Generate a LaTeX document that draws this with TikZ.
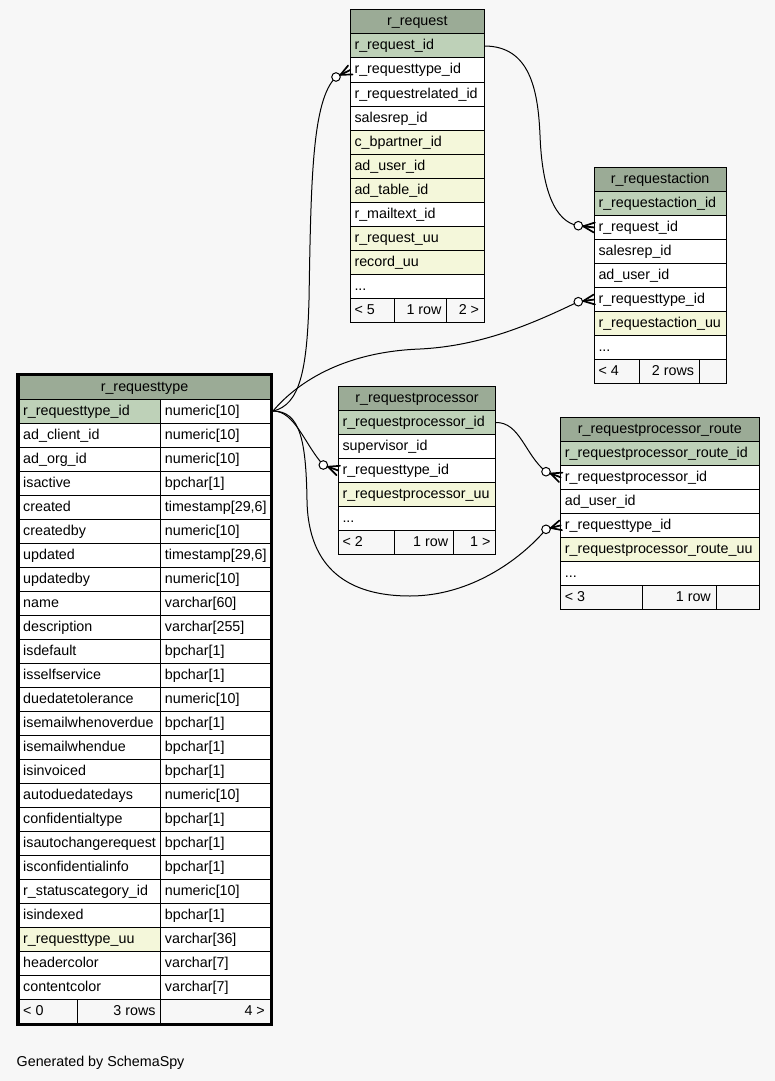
\documentclass[tikz,border=0pt]{standalone}
\usepackage{fontspec}
\setmainfont{Liberation Sans}
\usetikzlibrary{calc}
\definecolor{bgc}{HTML}{F7F7F7}
\definecolor{hdr}{HTML}{9BAB96}
\definecolor{pkc}{HTML}{BED1B8}
\definecolor{idx}{HTML}{F4F7DA}
\tikzset{
  cellbox/.style={draw=black, line width=1pt, minimum height=24pt, inner sep=0pt, outer sep=0pt, anchor=north west},
  celltext/.style={inner sep=0pt, font=\fontsize{14.3}{17}\selectfont, text=black},
  edge/.style={draw=black, line width=1pt},
  crowline/.style={draw=black, line width=1.7pt, line cap=round},
}
\newcommand\cellL[6]{%
  \node[cellbox, fill=#5, minimum width={(#3-#2)*1pt}] (#1) at ({#2},{#4}) {};
  \node[celltext, anchor=base west] (#1-t) at ({#2+4},{#4+16}) {#6};}
\newcommand\cellR[6]{%
  \node[cellbox, fill=#5, minimum width={(#3-#2)*1pt}] (#1) at ({#2},{#4}) {};
  \node[celltext, anchor=base east] (#1-t) at ({#3-5},{#4+16}) {#6};}
\newcommand\cellC[6]{%
  \node[cellbox, fill=#5, minimum width={(#3-#2)*1pt}] (#1) at ({#2},{#4}) {};
  \node[celltext, anchor=base] (#1-t) at ({(#2+#3)/2},{#4+16}) {#6};}
\newcommand\cellE[5]{%
  \node[cellbox, fill=#5, minimum width={(#3-#2)*1pt}] (#1) at ({#2},{#4}) {};}
\newcommand\rtrow[4]{%
  \cellL{rt-#1a}{19}{160.7}{399+24*(#1-1)}{#4}{#2}%
  \cellL{rt-#1b}{160.7}{270}{399+24*(#1-1)}{white}{#3}}
\newcommand\crowend[2]{%
  \draw[edge] (#1) -- (#2);
  \draw[crowline] ($(#1)!5pt!(#2)$) -- ($(#2)!5pt!90:(#1)$);
  \draw[crowline] ($(#1)!5pt!(#2)$) -- ($(#2)!5pt!-90:(#1)$);
  \draw[crowline] ($(#1)!5pt!(#2)$) -- (#2);
  \draw[edge, fill=white] (#1) circle[radius=4.3pt];}
\begin{document}
\begin{tikzpicture}[x=1pt, y=-1pt]
\fill[bgc] (0,0) rectangle (775,1081);
\useasboundingbox (0,0) rectangle (775,1081);

% r_request
\cellC{rq-0}{350.3}{484.3}{10}{hdr}{r\_request}
\cellL{rq-1}{350.3}{484.3}{34}{pkc}{r\_request\_id}
\cellL{rq-2}{350.3}{484.3}{58}{white}{r\_requesttype\_id}
\cellL{rq-3}{350.3}{484.3}{82}{white}{r\_requestrelated\_id}
\cellL{rq-4}{350.3}{484.3}{106}{white}{salesrep\_id}
\cellL{rq-5}{350.3}{484.3}{130}{idx}{c\_bpartner\_id}
\cellL{rq-6}{350.3}{484.3}{154}{idx}{ad\_user\_id}
\cellL{rq-7}{350.3}{484.3}{178}{idx}{ad\_table\_id}
\cellL{rq-8}{350.3}{484.3}{202}{white}{r\_mailtext\_id}
\cellL{rq-9}{350.3}{484.3}{226}{idx}{r\_request\_uu}
\cellL{rq-10}{350.3}{484.3}{250}{idx}{record\_uu}
\cellL{rq-11}{350.3}{484.3}{274}{white}{...}
\cellL{rq-f1}{350.3}{394.3}{298}{bgc}{< 5}
\cellR{rq-f2}{394.3}{446.7}{298}{bgc}{1 row}
\cellR{rq-f3}{446.7}{484.3}{298}{bgc}{2 >}

% r_requestaction
\cellC{ra-0}{594.3}{726}{167.5}{hdr}{r\_requestaction}
\cellL{ra-1}{594.3}{726}{191.5}{pkc}{r\_requestaction\_id}
\cellL{ra-2}{594.3}{726}{215.5}{white}{r\_request\_id}
\cellL{ra-3}{594.3}{726}{239.5}{white}{salesrep\_id}
\cellL{ra-4}{594.3}{726}{263.5}{white}{ad\_user\_id}
\cellL{ra-5}{594.3}{726}{287.5}{white}{r\_requesttype\_id}
\cellL{ra-6}{594.3}{726}{311.5}{idx}{r\_requestaction\_uu}
\cellL{ra-7}{594.3}{726}{335.5}{white}{...}
\cellL{ra-f1}{594.3}{639.3}{359.5}{bgc}{< 4}
\cellR{ra-f2}{639.3}{699.3}{359.5}{bgc}{2 rows}
\cellE{ra-f3}{699.3}{726}{359.5}{bgc}

% r_requestprocessor
\cellC{rp-0}{338.3}{495.7}{386.5}{hdr}{r\_requestprocessor}
\cellL{rp-1}{338.3}{495.7}{410.5}{pkc}{r\_requestprocessor\_id}
\cellL{rp-2}{338.3}{495.7}{434.5}{white}{supervisor\_id}
\cellL{rp-3}{338.3}{495.7}{458.5}{white}{r\_requesttype\_id}
\cellL{rp-4}{338.3}{495.7}{482.5}{idx}{r\_requestprocessor\_uu}
\cellL{rp-5}{338.3}{495.7}{506.5}{white}{...}
\cellL{rp-f1}{338.3}{394.3}{530.5}{bgc}{< 2}
\cellR{rp-f2}{394.3}{453.3}{530.5}{bgc}{1 row}
\cellR{rp-f3}{453.3}{495.7}{530.5}{bgc}{1 >}

% r_requestprocessor_route
\cellC{rr-0}{560.7}{759}{417.3}{hdr}{r\_requestprocessor\_route}
\cellL{rr-1}{560.7}{759}{441.3}{pkc}{r\_requestprocessor\_route\_id}
\cellL{rr-2}{560.7}{759}{465.3}{white}{r\_requestprocessor\_id}
\cellL{rr-3}{560.7}{759}{489.3}{white}{ad\_user\_id}
\cellL{rr-4}{560.7}{759}{513.3}{white}{r\_requesttype\_id}
\cellL{rr-5}{560.7}{759}{537.3}{idx}{r\_requestprocessor\_route\_uu}
\cellL{rr-6}{560.7}{759}{561.3}{white}{...}
\cellL{rr-f1}{560.7}{642.3}{585.3}{bgc}{< 3}
\cellR{rr-f2}{642.3}{716}{585.3}{bgc}{1 row}
\cellE{rr-f3}{716}{759}{585.3}{bgc}

% r_requesttype
\cellC{rt-0}{19}{270}{375}{hdr}{r\_requesttype}
\rtrow{1}{r\_requesttype\_id}{numeric[10]}{pkc}
\rtrow{2}{ad\_client\_id}{numeric[10]}{white}
\rtrow{3}{ad\_org\_id}{numeric[10]}{white}
\rtrow{4}{isactive}{bpchar[1]}{white}
\rtrow{5}{created}{timestamp[29,6]}{white}
\rtrow{6}{createdby}{numeric[10]}{white}
\rtrow{7}{updated}{timestamp[29,6]}{white}
\rtrow{8}{updatedby}{numeric[10]}{white}
\rtrow{9}{name}{varchar[60]}{white}
\rtrow{10}{description}{varchar[255]}{white}
\rtrow{11}{isdefault}{bpchar[1]}{white}
\rtrow{12}{isselfservice}{bpchar[1]}{white}
\rtrow{13}{duedatetolerance}{numeric[10]}{white}
\rtrow{14}{isemailwhenoverdue}{bpchar[1]}{white}
\rtrow{15}{isemailwhendue}{bpchar[1]}{white}
\rtrow{16}{isinvoiced}{bpchar[1]}{white}
\rtrow{17}{autoduedatedays}{numeric[10]}{white}
\rtrow{18}{confidentialtype}{bpchar[1]}{white}
\rtrow{19}{isautochangerequest}{bpchar[1]}{white}
\rtrow{20}{isconfidentialinfo}{bpchar[1]}{white}
\rtrow{21}{r\_statuscategory\_id}{numeric[10]}{white}
\rtrow{22}{isindexed}{bpchar[1]}{white}
\rtrow{23}{r\_requesttype\_uu}{varchar[36]}{idx}
\rtrow{24}{headercolor}{varchar[7]}{white}
\rtrow{25}{contentcolor}{varchar[7]}{white}
\cellL{rt-f1}{19}{77.7}{999}{bgc}{< 0}
\cellR{rt-f2}{77.7}{160.7}{999}{bgc}{3 rows}
\cellR{rt-f3}{160.7}{270}{999}{bgc}{4 >}
\draw[line width=3pt] (17.5,374.5) rectangle (271.5,1024.5);

% connectors
\coordinate (rtout) at ([xshift=3pt]rt-1b.east);
\coordinate (c1) at (336,77);
\coordinate (c2) at (578.3,301.7);
\coordinate (c3) at (323.3,465);
\coordinate (c4) at (546,529.3);
\coordinate (c5) at (578.3,225.7);
\coordinate (c6) at (546,471.7);
\draw[edge] (rtout) .. controls (300,405) and (307,370) .. (309,300) .. controls (311,180) and (312,100) .. (c1);
\crowend{c1}{rq-2.west}
\draw[edge] (rtout) .. controls (295,385) and (340,352) .. (420,349) .. controls (480,346) and (530,325) .. (c2);
\crowend{c2}{ra-5.west}
\draw[edge] (rtout) .. controls (295,411) and (305,445) .. (c3);
\crowend{c3}{rp-3.west}
\draw[edge] (rtout) .. controls (300,411) and (306,440) .. (307,500) .. controls (308,570) and (350,596) .. (410,596) .. controls (470,596) and (520,560) .. (c4);
\crowend{c4}{rr-4.west}
\draw[edge] (rq-1.east) .. controls (530,46) and (538,90) .. (540,135) .. controls (542,190) and (555,222) .. (c5);
\crowend{c5}{ra-2.west}
\draw[edge] (rp-1.east) .. controls (520,422) and (525,455) .. (c6);
\crowend{c6}{rr-2.west}

\node[celltext, anchor=base west] (gen) at (16.5,1066) {Generated by SchemaSpy};
\end{tikzpicture}
\end{document}
